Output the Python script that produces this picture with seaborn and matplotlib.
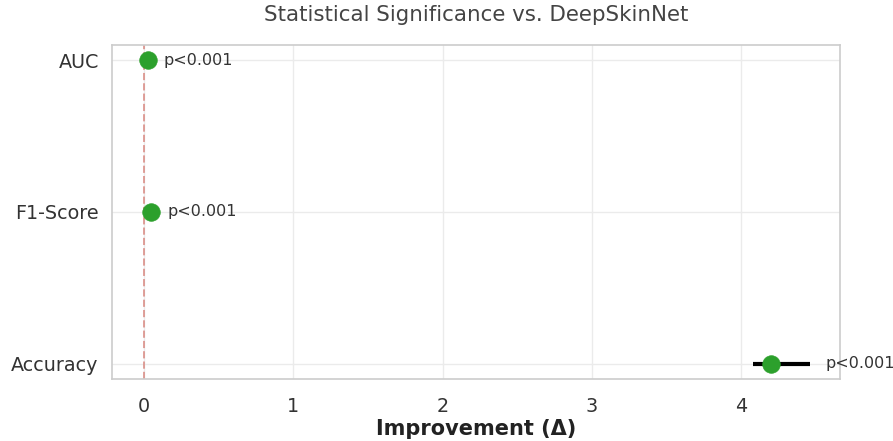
import matplotlib
matplotlib.use("Agg")
import matplotlib.pyplot as plt
import seaborn as sns
import pandas as pd

# Improvement of the proposed model over DeepSkinNet, with 95% CI
metrics = ["AUC", "F1-Score", "Accuracy"]
delta = [0.027, 0.047, 4.20]
ci_low = [0.020, 0.040, 4.08]
ci_high = [0.034, 0.055, 4.46]
p_labels = ["p<0.001", "p<0.001", "p<0.001"]

sns.set_theme(style="whitegrid")
plt.rcParams["font.family"] = ["DejaVu Sans"]

df = pd.DataFrame({"metric": metrics, "delta": delta,
                   "lo": ci_low, "hi": ci_high, "p": p_labels})
df["pos"] = range(len(df))

fig, ax = plt.subplots(figsize=(8.93, 4.41), dpi=100)
fig.subplots_adjust(left=0.1254, right=0.9406, top=0.898, bottom=0.1406)

ax.grid(True, color="#ebebeb", linewidth=1)
for s in ax.spines.values():
    s.set_color("#cccccc")
    s.set_linewidth(1.2)

ax.axvline(0, color="#d98880", linestyle="--", linewidth=1.4, alpha=0.8, zorder=1)
ax.hlines(df["pos"], df["lo"], df["hi"], color="black", linewidth=3, zorder=2)
sns.scatterplot(data=df, x="delta", y="pos", ax=ax, color="#2ca02c",
                s=160, edgecolor="#2ca02c", linewidth=0.5, zorder=3)

for _, row in df.iterrows():
    ax.text(row["hi"] + 0.1, row["pos"], row["p"], va="center", ha="left",
            fontsize=11.5, color="#333333")

ax.set_yticks(df["pos"])
ax.set_yticklabels(df["metric"], fontsize=13.8, color="#333333")
ax.set_ylim(2.1, -0.1)
ax.set_xlim(-0.214, 4.66)
ax.set_xticks([0, 1, 2, 3, 4])
ax.tick_params(axis="x", labelsize=13.8, labelcolor="#333333", pad=7)
ax.set_ylabel("")
ax.set_xlabel("Improvement (Δ)", fontsize=15, fontweight="bold",
              color="#222222", labelpad=2)
ax.set_title("Statistical Significance vs. DeepSkinNet", fontsize=15.4,
             color="#444444", pad=17)

fig.savefig("out.png", dpi=100)
